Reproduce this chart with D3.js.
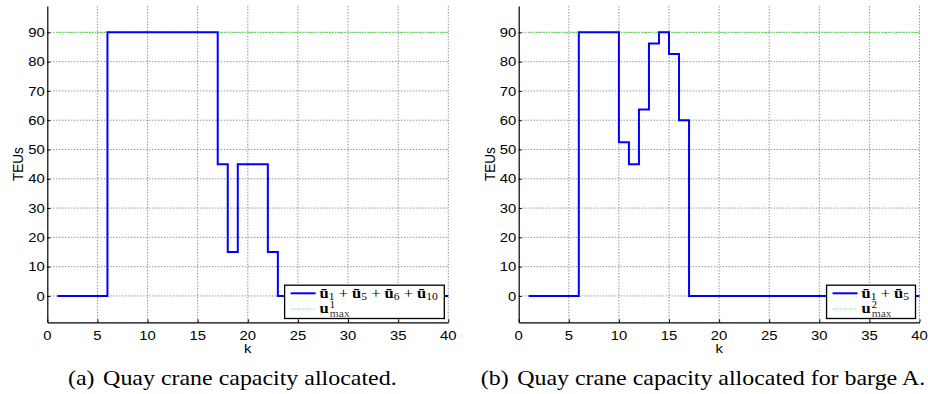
<!DOCTYPE html>
<html><head><meta charset="utf-8">
<script src="https://cdn.jsdelivr.net/npm/d3@7"></script>
<style>body{margin:0;background:#fff} svg{display:block}</style>
</head><body>
<svg id="c" width="928" height="394"></svg>
<script>
// ---- data ----
const kValues = [1,2,3,4,5,6,7,8,9,10,11,12,13,14,15,16,17,18,19,20,21,22,23,24,25,26,27,28,29,30,31,32,33,34,35,36,37,38,39,40];
const seriesA = [0,0,0,0,0,90,90,90,90,90,90,90,90,90,90,90,45,15,45,45,45,15,0,0,0,0,0,0,0,0,0,0,0,0,0,0,0,0,0,0];
const seriesB = [0,0,0,0,0,90,90,90,90,52.5,45,63.7,86.2,90,82.6,60,0,0,0,0,0,0,0,0,0,0,0,0,0,0,0,0,0,0,0,0,0,0,0,0];
const umaxA = 90;
const umaxB = 90;
const xTicks = [0,5,10,15,20,25,30,35,40];
const yTicks = [0,10,20,30,40,50,60,70,80,90];
const legendA = [["1","5","6","10"], "1"];
const legendB = [["1","5"], "2"];
const captionLabels = ["(a)", "(b)"];
const captionTexts = ["Quay crane capacity allocated.", "Quay crane capacity allocated for barge A."];

// ---- drawing ----
const SX = 1.1;       // horizontal stretch of the original figure's text
const SERIF = 'Liberation Serif, Times New Roman, serif';
const svg = d3.select('#c');
const y = d3.scaleLinear().domain([-9, 99]).range([322.3, 6]);

function stext(g, x, yy, opts) {
  const t = g.append('text')
    .attr('transform', `translate(${x},${yy}) scale(${opts.sx || SX},1)` + (opts.rot ? ` rotate(${opts.rot})` : ''))
    .attr('font-family', opts.family || 'Liberation Sans, Arial, sans-serif')
    .attr('font-size', opts.size || 13.5)
    .attr('text-anchor', opts.anchor || 'start')
    .attr('fill', opts.fill || '#000');
  if (opts.text !== undefined) t.text(opts.text);
  return t;
}

const panels = [
  {x0: 47.3, x1: 448.3, series: seriesA, umax: umaxA, legend: legendA, cap: 0, capX: 68},
  {x0: 518.7, x1: 919.5, series: seriesB, umax: umaxB, legend: legendB, cap: 1, capX: 480.7}
];

panels.forEach(p => {
  const x = d3.scaleLinear().domain([0, 40]).range([p.x0, p.x1]);
  const g = svg.append('g');

  // grid
  g.append('g').selectAll('line').data(xTicks.filter(d => d > 0)).join('line')
    .attr('x1', d => x(d)).attr('x2', d => x(d))
    .attr('y1', y(-9)).attr('y2', y(99))
    .attr('stroke', '#666').attr('stroke-width', 1).attr('stroke-dasharray', '1,2');
  g.append('g').selectAll('line').data(yTicks).join('line')
    .attr('x1', x(0)).attr('x2', x(40))
    .attr('y1', d => y(d)).attr('y2', d => y(d))
    .attr('stroke', '#666').attr('stroke-width', 1).attr('stroke-dasharray', '1,2');

  // u_max line
  const umaxData = kValues.map(k => ({k, v: p.umax}));
  const line = d3.line().x(d => x(d.k)).y(d => y(d.v));
  g.append('path').datum(umaxData)
    .attr('d', line).attr('fill', 'none')
    .attr('stroke', '#33ee33').attr('stroke-width', 1.2).attr('stroke-dasharray', '1,1.5');

  // stairs
  const data = kValues.map((k, i) => ({k, v: p.series[i]}));
  g.append('path').datum(data)
    .attr('d', line.curve(d3.curveStepAfter)).attr('fill', 'none')
    .attr('stroke', '#0000ff').attr('stroke-width', 2);

  // axes
  const ax = g.append('g').attr('transform', `translate(0,${y(-9)})`)
    .call(d3.axisBottom(x).tickValues(xTicks).tickSize(-3).tickSizeOuter(0));
  const ay = g.append('g').attr('transform', `translate(${x(0)},0)`)
    .call(d3.axisLeft(y).tickValues(yTicks).tickSize(-3).tickSizeOuter(0));
  [ax, ay].forEach(a => {
    a.selectAll('text').remove();
    a.select('.domain').attr('stroke', '#000').attr('stroke-width', 1.2);
    a.selectAll('.tick line').attr('stroke', '#000');
  });

  // tick labels
  xTicks.forEach(t => stext(g, x(t), 339.5, {text: t, anchor: 'middle'}));
  yTicks.forEach(t => stext(g, x(0) - 2.5, y(t) + 4.7, {text: t, anchor: 'end'}));
  stext(g, x(20), 353, {text: 'k', anchor: 'middle'});
  stext(g, x(0) - 24, (y(-9) + y(99)) / 2, {text: 'TEUs', anchor: 'middle', rot: -90});

  // legend
  const lg = g.append('g');
  const box = lg.append('rect').attr('fill', '#fff').attr('stroke', '#000').attr('stroke-width', 1.3);
  const t1 = stext(lg, 0, 297.5, {family: SERIF, size: 15});
  p.legend[0].forEach((s, i) => {
    if (i > 0) t1.append('tspan').attr('font-weight', 'normal').attr('dy', -2.5).text(' + ');
    t1.append('tspan').attr('font-weight', 'bold').text('\u016B');
    t1.append('tspan').attr('font-size', 10.5).attr('dy', 2.5).text(s);
  });
  const w1 = t1.node().getBBox().width * SX;
  const t2 = stext(lg, 0, 313, {family: SERIF, size: 15, text: 'u'}).attr('font-weight', 'bold');
  const wu = t2.node().getBBox().width * SX;
  const sup = stext(lg, 0, 307.6, {family: SERIF, size: 9.5, text: p.legend[1]});
  const sub = stext(lg, 0, 316.8, {family: SERIF, size: 10.5, text: 'max', fill: '#444'});

  const bw = 35 + w1 + 6;
  const bx = x(40) - 4 - bw;
  box.attr('x', bx).attr('y', 285.2).attr('width', bw).attr('height', 33.3);
  t1.attr('transform', `translate(${bx + 35},297.5) scale(${SX},1)`);
  t2.attr('transform', `translate(${bx + 35},313) scale(${SX},1)`);
  sup.attr('transform', `translate(${bx + 35 + wu + 0.8},307.6) scale(${SX},1)`);
  sub.attr('transform', `translate(${bx + 35 + wu + 0.8},316.8) scale(${SX},1)`);
  lg.append('line').attr('x1', bx + 6).attr('x2', bx + 31).attr('y1', 293.3).attr('y2', 293.3)
    .attr('stroke', '#0000ff').attr('stroke-width', 2);
  lg.append('line').attr('x1', bx + 6).attr('x2', bx + 31).attr('y1', 309).attr('y2', 309)
    .attr('stroke', '#33ee33').attr('stroke-width', 1.2).attr('stroke-dasharray', '1,1.5');

  // caption
  const ct = stext(svg, p.capX, 385, {family: SERIF, size: 21, sx: 1.14});
  ct.append('tspan').text(captionLabels[p.cap]);
  ct.append('tspan').attr('dx', 7.5).text(captionTexts[p.cap]);
});
</script>
</body></html>
